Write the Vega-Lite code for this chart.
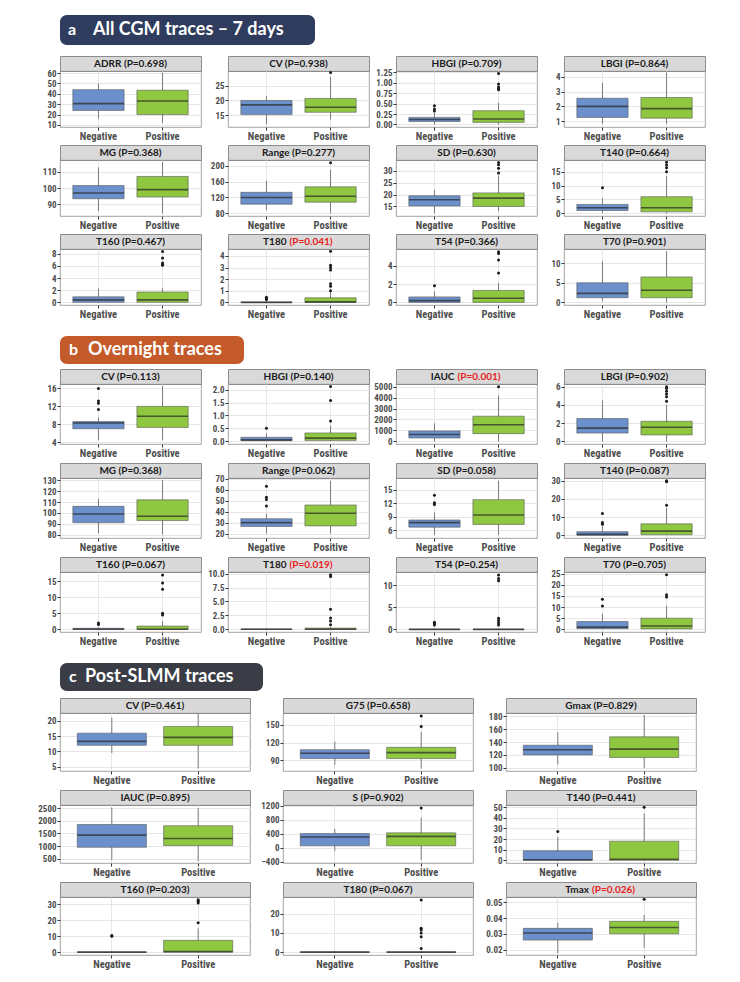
{
"$schema":"https://vega.github.io/schema/vega-lite/v6.json",
"background":"white",
"padding":{"left":28,"top":15,"right":4,"bottom":4},
"data":{"values":[{}]},
"datasets":{
"st":[
{"k":"a1","g":"Negative","lo":16,"q1":24,"md":30.5,"q3":44,"hi":50},{"k":"a1","g":"Positive","lo":12,"q1":20,"md":33,"q3":43.5,"hi":60},
{"k":"a2","g":"Negative","lo":12,"q1":15.2,"md":18.5,"q3":20,"hi":21.5},{"k":"a2","g":"Positive","lo":13.5,"q1":16,"md":17.7,"q3":20.7,"hi":28},
{"k":"a3","g":"Negative","lo":0,"q1":0.07,"md":0.12,"q3":0.17,"hi":0.28},{"k":"a3","g":"Positive","lo":0,"q1":0.05,"md":0.13,"q3":0.33,"hi":0.52},
{"k":"a4","g":"Negative","lo":0.8,"q1":1.25,"md":2,"q3":2.55,"hi":3.6},{"k":"a4","g":"Positive","lo":0.8,"q1":1.2,"md":1.85,"q3":2.6,"hi":4.3},
{"k":"a5","g":"Negative","lo":86,"q1":93.5,"md":97,"q3":101.5,"hi":112.5},{"k":"a5","g":"Positive","lo":84.5,"q1":94.5,"md":99,"q3":107,"hi":116},
{"k":"a6","g":"Negative","lo":88,"q1":103,"md":120,"q3":133,"hi":162},{"k":"a6","g":"Positive","lo":80,"q1":108,"md":123,"q3":147,"hi":190},
{"k":"a7","g":"Negative","lo":12,"q1":15.2,"md":17.8,"q3":19.5,"hi":22},{"k":"a7","g":"Positive","lo":13,"q1":15,"md":18.5,"q3":20.7,"hi":28},
{"k":"a8","g":"Negative","lo":0,"q1":1,"md":2,"q3":3.2,"hi":5.5},{"k":"a8","g":"Positive","lo":0,"q1":0.5,"md":2,"q3":6,"hi":13.5},
{"k":"a9","g":"Negative","lo":0,"q1":0,"md":0.4,"q3":0.9,"hi":2.3},{"k":"a9","g":"Positive","lo":0,"q1":0,"md":0.4,"q3":1.7,"hi":2.4},
{"k":"a10","g":"Negative","lo":0,"q1":0,"md":0,"q3":0.05,"hi":0.1},{"k":"a10","g":"Positive","lo":0,"q1":0,"md":0.05,"q3":0.4,"hi":0.9},
{"k":"a11","g":"Negative","lo":0,"q1":0,"md":0.2,"q3":0.6,"hi":1.2},{"k":"a11","g":"Positive","lo":0,"q1":0,"md":0.45,"q3":1.3,"hi":2.1},
{"k":"a12","g":"Negative","lo":0.3,"q1":1.2,"md":2.3,"q3":5,"hi":10.5},{"k":"a12","g":"Positive","lo":0,"q1":1.2,"md":3.1,"q3":6.5,"hi":13},
{"k":"b1","g":"Negative","lo":4.5,"q1":7,"md":8.3,"q3":8.6,"hi":9.5},{"k":"b1","g":"Positive","lo":4.5,"q1":7.3,"md":9.8,"q3":12,"hi":16.6},
{"k":"b2","g":"Negative","lo":0,"q1":0.02,"md":0.05,"q3":0.15,"hi":0.3},{"k":"b2","g":"Positive","lo":0,"q1":0.03,"md":0.12,"q3":0.32,"hi":0.6},
{"k":"b3","g":"Negative","lo":0,"q1":300,"md":620,"q3":950,"hi":1650},{"k":"b3","g":"Positive","lo":0,"q1":700,"md":1520,"q3":2300,"hi":4200},
{"k":"b4","g":"Negative","lo":0,"q1":0.9,"md":1.45,"q3":2.5,"hi":4.5},{"k":"b4","g":"Positive","lo":0,"q1":0.7,"md":1.55,"q3":2.2,"hi":4},
{"k":"b5","g":"Negative","lo":81,"q1":91,"md":99,"q3":106,"hi":113},{"k":"b5","g":"Positive","lo":80,"q1":93,"md":97,"q3":112,"hi":130},
{"k":"b6","g":"Negative","lo":20,"q1":26.5,"md":30,"q3":33.5,"hi":38},{"k":"b6","g":"Positive","lo":20,"q1":27,"md":38.5,"q3":46,"hi":68},
{"k":"b7","g":"Negative","lo":5,"q1":6.7,"md":7.7,"q3":8.3,"hi":10},{"k":"b7","g":"Positive","lo":5,"q1":7.3,"md":9.4,"q3":12.8,"hi":17},
{"k":"b8","g":"Negative","lo":0,"q1":0,"md":0.5,"q3":2,"hi":5},{"k":"b8","g":"Positive","lo":0,"q1":0.3,"md":2.3,"q3":6.3,"hi":15},
{"k":"b9","g":"Negative","lo":0,"q1":0,"md":0,"q3":0.3,"hi":0.6},{"k":"b9","g":"Positive","lo":0,"q1":0,"md":0,"q3":1,"hi":2.5},
{"k":"b10","g":"Negative","lo":0,"q1":0,"md":0,"q3":0,"hi":0},{"k":"b10","g":"Positive","lo":0,"q1":0,"md":0,"q3":0.2,"hi":0.4},
{"k":"b11","g":"Negative","lo":0,"q1":0,"md":0,"q3":0,"hi":0},{"k":"b11","g":"Positive","lo":0,"q1":0,"md":0,"q3":0,"hi":0},
{"k":"b12","g":"Negative","lo":0,"q1":0.3,"md":1,"q3":3.5,"hi":7},{"k":"b12","g":"Positive","lo":0,"q1":0.2,"md":1.5,"q3":5,"hi":10.5},
{"k":"c1","g":"Negative","lo":9.5,"q1":12,"md":13.3,"q3":16,"hi":21},{"k":"c1","g":"Positive","lo":4.5,"q1":12,"md":14.6,"q3":18.2,"hi":22.5},
{"k":"c2","g":"Negative","lo":82,"q1":93,"md":102,"q3":108,"hi":122},{"k":"c2","g":"Positive","lo":76,"q1":93,"md":103,"q3":112,"hi":138},
{"k":"c3","g":"Negative","lo":105,"q1":120,"md":128,"q3":135,"hi":155},{"k":"c3","g":"Positive","lo":100,"q1":116,"md":129,"q3":148,"hi":182},
{"k":"c4","g":"Negative","lo":450,"q1":950,"md":1430,"q3":1850,"hi":2520},{"k":"c4","g":"Positive","lo":400,"q1":1020,"md":1300,"q3":1800,"hi":2500},
{"k":"c5","g":"Negative","lo":-100,"q1":50,"md":300,"q3":400,"hi":530},{"k":"c5","g":"Positive","lo":-350,"q1":50,"md":320,"q3":420,"hi":850},
{"k":"c6","g":"Negative","lo":0,"q1":0,"md":0.5,"q3":9,"hi":22},{"k":"c6","g":"Positive","lo":0,"q1":0,"md":1,"q3":18,"hi":44},
{"k":"c7","g":"Negative","lo":0,"q1":0,"md":0,"q3":0.3,"hi":0.6},{"k":"c7","g":"Positive","lo":0,"q1":0,"md":0.5,"q3":7.5,"hi":15},
{"k":"c8","g":"Negative","lo":0,"q1":0,"md":0,"q3":0.3,"hi":0.5},{"k":"c8","g":"Positive","lo":0,"q1":0,"md":0,"q3":0.3,"hi":0.6},
{"k":"c9","g":"Negative","lo":0.0175,"q1":0.026,"md":0.0305,"q3":0.0335,"hi":0.037},{"k":"c9","g":"Positive","lo":0.021,"q1":0.03,"md":0.034,"q3":0.038,"hi":0.042}
],
"ot":[
{"k":"a2","g":"Positive","v":29.5},
{"k":"a3","g":"Negative","v":0.32},{"k":"a3","g":"Negative","v":0.37},{"k":"a3","g":"Negative","v":0.45},
{"k":"a3","g":"Positive","v":0.83},{"k":"a3","g":"Positive","v":0.86},{"k":"a3","g":"Positive","v":0.9},{"k":"a3","g":"Positive","v":0.97},{"k":"a3","g":"Positive","v":1.22},
{"k":"a6","g":"Positive","v":208},
{"k":"a7","g":"Positive","v":29},{"k":"a7","g":"Positive","v":31},{"k":"a7","g":"Positive","v":32.5},{"k":"a7","g":"Positive","v":33.5},
{"k":"a8","g":"Negative","v":9.2},{"k":"a8","g":"Positive","v":15},{"k":"a8","g":"Positive","v":16.5},{"k":"a8","g":"Positive","v":17.5},{"k":"a8","g":"Positive","v":18.5},
{"k":"a9","g":"Positive","v":6.1},{"k":"a9","g":"Positive","v":6.3},{"k":"a9","g":"Positive","v":6.5},{"k":"a9","g":"Positive","v":7.3},{"k":"a9","g":"Positive","v":8.4},
{"k":"a10","g":"Negative","v":0.25},{"k":"a10","g":"Negative","v":0.35},{"k":"a10","g":"Negative","v":0.45},
{"k":"a10","g":"Positive","v":1.0},{"k":"a10","g":"Positive","v":1.4},{"k":"a10","g":"Positive","v":1.6},{"k":"a10","g":"Positive","v":2.8},{"k":"a10","g":"Positive","v":3.0},{"k":"a10","g":"Positive","v":3.2},{"k":"a10","g":"Positive","v":4.4},
{"k":"a11","g":"Negative","v":1.8},{"k":"a11","g":"Positive","v":3.2},{"k":"a11","g":"Positive","v":4.6},{"k":"a11","g":"Positive","v":5.3},{"k":"a11","g":"Positive","v":5.5},
{"k":"b1","g":"Negative","v":11.3},{"k":"b1","g":"Negative","v":12.7},{"k":"b1","g":"Negative","v":13.2},{"k":"b1","g":"Negative","v":16},
{"k":"b2","g":"Negative","v":0.5},{"k":"b2","g":"Positive","v":0.78},{"k":"b2","g":"Positive","v":1.58},{"k":"b2","g":"Positive","v":2.12},
{"k":"b3","g":"Positive","v":5000},
{"k":"b4","g":"Positive","v":4.4},{"k":"b4","g":"Positive","v":4.9},{"k":"b4","g":"Positive","v":5.2},{"k":"b4","g":"Positive","v":5.5},{"k":"b4","g":"Positive","v":5.8},{"k":"b4","g":"Positive","v":6.0},
{"k":"b6","g":"Negative","v":45},{"k":"b6","g":"Negative","v":51},{"k":"b6","g":"Negative","v":53},{"k":"b6","g":"Negative","v":63},
{"k":"b7","g":"Negative","v":11.7},{"k":"b7","g":"Negative","v":12.1},{"k":"b7","g":"Negative","v":13.8},
{"k":"b8","g":"Negative","v":6},{"k":"b8","g":"Negative","v":7},{"k":"b8","g":"Negative","v":12},{"k":"b8","g":"Positive","v":16.5},{"k":"b8","g":"Positive","v":29.5},{"k":"b8","g":"Positive","v":30},
{"k":"b9","g":"Negative","v":1.5},{"k":"b9","g":"Negative","v":2},{"k":"b9","g":"Positive","v":4.5},{"k":"b9","g":"Positive","v":5},{"k":"b9","g":"Positive","v":12.5},{"k":"b9","g":"Positive","v":14.5},{"k":"b9","g":"Positive","v":17},
{"k":"b10","g":"Positive","v":0.8},{"k":"b10","g":"Positive","v":1.5},{"k":"b10","g":"Positive","v":2.0},{"k":"b10","g":"Positive","v":3.6},{"k":"b10","g":"Positive","v":9.5},{"k":"b10","g":"Positive","v":9.8},
{"k":"b11","g":"Negative","v":1.0},{"k":"b11","g":"Negative","v":1.3},{"k":"b11","g":"Negative","v":1.6},
{"k":"b11","g":"Positive","v":1.0},{"k":"b11","g":"Positive","v":1.5},{"k":"b11","g":"Positive","v":2.0},{"k":"b11","g":"Positive","v":2.5},{"k":"b11","g":"Positive","v":11.0},{"k":"b11","g":"Positive","v":11.5},{"k":"b11","g":"Positive","v":12.3},
{"k":"b12","g":"Negative","v":10.5},{"k":"b12","g":"Negative","v":13.5},{"k":"b12","g":"Positive","v":14.5},{"k":"b12","g":"Positive","v":15.5},{"k":"b12","g":"Positive","v":24.5},
{"k":"c2","g":"Positive","v":147},{"k":"c2","g":"Positive","v":165},
{"k":"c5","g":"Positive","v":1130},
{"k":"c6","g":"Negative","v":27},{"k":"c6","g":"Positive","v":50},
{"k":"c7","g":"Negative","v":10},{"k":"c7","g":"Negative","v":10.5},{"k":"c7","g":"Positive","v":18.5},{"k":"c7","g":"Positive","v":31},{"k":"c7","g":"Positive","v":32},{"k":"c7","g":"Positive","v":33},
{"k":"c8","g":"Positive","v":2},{"k":"c8","g":"Positive","v":8},{"k":"c8","g":"Positive","v":10},{"k":"c8","g":"Positive","v":11.5},{"k":"c8","g":"Positive","v":12.5},{"k":"c8","g":"Positive","v":27},
{"k":"c9","g":"Positive","v":0.052}
]
},
"config":{
"font":"Lato",
"view":{"stroke":"#8c8c8c","strokeWidth":0.8},
"range":{"category":["#6c90cb","#8fc740"]},
"scale":{"bandPaddingInner":0.2,"bandPaddingOuter":0.2},
"numberFormat":"d",
"axis":{"labelFont":"Liberation Sans Narrow, Arial Narrow, Roboto Condensed, DejaVu Sans Condensed, sans-serif","labelFontWeight":"bold","labelColor":"#4d4d4d","tickColor":"#333333","tickSize":3,"domain":false,"gridColor":"#e3e3e3","gridWidth":0.9,"labelPadding":1,"labelOverlap":false},
"axisX":{"labelAngle":0,"labelFontSize":10.5,"grid":true,"bandPosition":0.5},
"axisY":{"labelFontSize":9,"minExtent":25,"maxExtent":25},
"rule":{"color":"#4d4d4d","strokeWidth":0.7},
"bar":{"stroke":"#595959","strokeWidth":0.6},
"tick":{"color":"#262626","thickness":1.6},
"point":{"filled":true,"color":"#1a1a1a","size":9,"opacity":1},
"text":{"font":"Lato","fontWeight":"bold","fontSize":10,"color":"#1a1a1a"}
},
"spacing":16,
"vconcat":[
{"spacing":10,"vconcat":[
{"width":255,"height":30,"view":{"fill":"#2f3c5d","stroke":null,"cornerRadius":7},"layer":[
{"mark":{"type":"text","align":"left","dx":-119.5,"fontSize":16,"color":"white"},"encoding":{"text":{"value":"a"}}},
{"mark":{"type":"text","align":"left","dx":-94.5,"fontSize":18,"color":"white"},"encoding":{"text":{"value":"All CGM traces – 7 days"}}}]},
{"columns":4,"spacing":{"row":2,"column":0},"concat":[
{"spacing":0,"bounds":"flush","vconcat":[{"width":141,"height":15,"view":{"fill":"#d9d9d9","stroke":"#8c8c8c"},"mark":"text","encoding":{"text":{"value":"ADRR (P=0.698)"}}},{"width":141,"height":56,"data":{"name":"st"},"transform":[{"filter":"datum.k=='a1'"}],"encoding":{"x":{"field":"g","type":"nominal","title":null}},"resolve":{"axis":{"y":"independent"}},"layer":[{"mark":"rule","encoding":{"y":{"field":"lo","type":"quantitative","title":null,"scale":{"domain":[8,62],"nice":false},"axis":{"labelOverlap":false,"values":[10,20,30,40,50,60]}},"y2":{"field":"hi"}}},{"mark":"bar","encoding":{"y":{"field":"q1","type":"quantitative","axis":null},"y2":{"field":"q3"},"color":{"field":"g","type":"nominal","legend":null}}},{"mark":{"type":"tick","size":51},"encoding":{"y":{"field":"md","type":"quantitative","axis":null}}},{"data":{"name":"ot"},"transform":[{"filter":"datum.k=='a1'"}],"mark":"point","encoding":{"y":{"field":"v","type":"quantitative","axis":null}}},{"mark":{"type":"rule","opacity":0},"encoding":{"y":{"field":"lo","type":"quantitative","title":null,"axis":{"orient":"right","values":[15,25,35,45,55],"labels":false,"ticks":false,"minExtent":0,"maxExtent":0,"gridColor":"#efefef","gridWidth":0.6}}}}]}]},
{"spacing":0,"bounds":"flush","vconcat":[{"width":141,"height":15,"view":{"fill":"#d9d9d9","stroke":"#8c8c8c"},"mark":"text","encoding":{"text":{"value":"CV (P=0.938)"}}},{"width":141,"height":56,"data":{"name":"st"},"transform":[{"filter":"datum.k=='a2'"}],"encoding":{"x":{"field":"g","type":"nominal","title":null}},"resolve":{"axis":{"y":"independent"}},"layer":[{"mark":"rule","encoding":{"y":{"field":"lo","type":"quantitative","title":null,"scale":{"domain":[11,30],"nice":false},"axis":{"labelOverlap":false,"values":[15,20,25]}},"y2":{"field":"hi"}}},{"mark":"bar","encoding":{"y":{"field":"q1","type":"quantitative","axis":null},"y2":{"field":"q3"},"color":{"field":"g","type":"nominal","legend":null}}},{"mark":{"type":"tick","size":51},"encoding":{"y":{"field":"md","type":"quantitative","axis":null}}},{"data":{"name":"ot"},"transform":[{"filter":"datum.k=='a2'"}],"mark":"point","encoding":{"y":{"field":"v","type":"quantitative","axis":null}}},{"mark":{"type":"rule","opacity":0},"encoding":{"y":{"field":"lo","type":"quantitative","title":null,"axis":{"orient":"right","values":[12.5,17.5,22.5,27.5],"labels":false,"ticks":false,"minExtent":0,"maxExtent":0,"gridColor":"#efefef","gridWidth":0.6}}}}]}]},
{"spacing":0,"bounds":"flush","vconcat":[{"width":141,"height":15,"view":{"fill":"#d9d9d9","stroke":"#8c8c8c"},"mark":"text","encoding":{"text":{"value":"HBGI (P=0.709)"}}},{"width":141,"height":56,"data":{"name":"st"},"transform":[{"filter":"datum.k=='a3'"}],"encoding":{"x":{"field":"g","type":"nominal","title":null}},"resolve":{"axis":{"y":"independent"}},"layer":[{"mark":"rule","encoding":{"y":{"field":"lo","type":"quantitative","title":null,"scale":{"domain":[-0.06,1.28],"nice":false},"axis":{"labelOverlap":false,"format":".2f","values":[0,0.25,0.5,0.75,1,1.25]}},"y2":{"field":"hi"}}},{"mark":"bar","encoding":{"y":{"field":"q1","type":"quantitative","axis":null},"y2":{"field":"q3"},"color":{"field":"g","type":"nominal","legend":null}}},{"mark":{"type":"tick","size":51},"encoding":{"y":{"field":"md","type":"quantitative","axis":null}}},{"data":{"name":"ot"},"transform":[{"filter":"datum.k=='a3'"}],"mark":"point","encoding":{"y":{"field":"v","type":"quantitative","axis":null}}},{"mark":{"type":"rule","opacity":0},"encoding":{"y":{"field":"lo","type":"quantitative","title":null,"axis":{"orient":"right","values":[0.125,0.375,0.625,0.875,1.125],"labels":false,"ticks":false,"minExtent":0,"maxExtent":0,"gridColor":"#efefef","gridWidth":0.6}}}}]}]},
{"spacing":0,"bounds":"flush","vconcat":[{"width":141,"height":15,"view":{"fill":"#d9d9d9","stroke":"#8c8c8c"},"mark":"text","encoding":{"text":{"value":"LBGI (P=0.864)"}}},{"width":141,"height":56,"data":{"name":"st"},"transform":[{"filter":"datum.k=='a4'"}],"encoding":{"x":{"field":"g","type":"nominal","title":null}},"resolve":{"axis":{"y":"independent"}},"layer":[{"mark":"rule","encoding":{"y":{"field":"lo","type":"quantitative","title":null,"scale":{"domain":[0.6,4.4],"nice":false},"axis":{"labelOverlap":false,"values":[1,2,3,4]}},"y2":{"field":"hi"}}},{"mark":"bar","encoding":{"y":{"field":"q1","type":"quantitative","axis":null},"y2":{"field":"q3"},"color":{"field":"g","type":"nominal","legend":null}}},{"mark":{"type":"tick","size":51},"encoding":{"y":{"field":"md","type":"quantitative","axis":null}}},{"data":{"name":"ot"},"transform":[{"filter":"datum.k=='a4'"}],"mark":"point","encoding":{"y":{"field":"v","type":"quantitative","axis":null}}},{"mark":{"type":"rule","opacity":0},"encoding":{"y":{"field":"lo","type":"quantitative","title":null,"axis":{"orient":"right","values":[1.5,2.5,3.5],"labels":false,"ticks":false,"minExtent":0,"maxExtent":0,"gridColor":"#efefef","gridWidth":0.6}}}}]}]},
{"spacing":0,"bounds":"flush","vconcat":[{"width":141,"height":15,"view":{"fill":"#d9d9d9","stroke":"#8c8c8c"},"mark":"text","encoding":{"text":{"value":"MG (P=0.368)"}}},{"width":141,"height":56,"data":{"name":"st"},"transform":[{"filter":"datum.k=='a5'"}],"encoding":{"x":{"field":"g","type":"nominal","title":null}},"resolve":{"axis":{"y":"independent"}},"layer":[{"mark":"rule","encoding":{"y":{"field":"lo","type":"quantitative","title":null,"scale":{"domain":[83,117],"nice":false},"axis":{"labelOverlap":false,"values":[90,100,110]}},"y2":{"field":"hi"}}},{"mark":"bar","encoding":{"y":{"field":"q1","type":"quantitative","axis":null},"y2":{"field":"q3"},"color":{"field":"g","type":"nominal","legend":null}}},{"mark":{"type":"tick","size":51},"encoding":{"y":{"field":"md","type":"quantitative","axis":null}}},{"data":{"name":"ot"},"transform":[{"filter":"datum.k=='a5'"}],"mark":"point","encoding":{"y":{"field":"v","type":"quantitative","axis":null}}},{"mark":{"type":"rule","opacity":0},"encoding":{"y":{"field":"lo","type":"quantitative","title":null,"axis":{"orient":"right","values":[85,95,105,115],"labels":false,"ticks":false,"minExtent":0,"maxExtent":0,"gridColor":"#efefef","gridWidth":0.6}}}}]}]},
{"spacing":0,"bounds":"flush","vconcat":[{"width":141,"height":15,"view":{"fill":"#d9d9d9","stroke":"#8c8c8c"},"mark":"text","encoding":{"text":{"value":"Range (P=0.277)"}}},{"width":141,"height":56,"data":{"name":"st"},"transform":[{"filter":"datum.k=='a6'"}],"encoding":{"x":{"field":"g","type":"nominal","title":null}},"resolve":{"axis":{"y":"independent"}},"layer":[{"mark":"rule","encoding":{"y":{"field":"lo","type":"quantitative","title":null,"scale":{"domain":[73,215],"nice":false},"axis":{"labelOverlap":false,"values":[80,120,160,200]}},"y2":{"field":"hi"}}},{"mark":"bar","encoding":{"y":{"field":"q1","type":"quantitative","axis":null},"y2":{"field":"q3"},"color":{"field":"g","type":"nominal","legend":null}}},{"mark":{"type":"tick","size":51},"encoding":{"y":{"field":"md","type":"quantitative","axis":null}}},{"data":{"name":"ot"},"transform":[{"filter":"datum.k=='a6'"}],"mark":"point","encoding":{"y":{"field":"v","type":"quantitative","axis":null}}},{"mark":{"type":"rule","opacity":0},"encoding":{"y":{"field":"lo","type":"quantitative","title":null,"axis":{"orient":"right","values":[100,140,180],"labels":false,"ticks":false,"minExtent":0,"maxExtent":0,"gridColor":"#efefef","gridWidth":0.6}}}}]}]},
{"spacing":0,"bounds":"flush","vconcat":[{"width":141,"height":15,"view":{"fill":"#d9d9d9","stroke":"#8c8c8c"},"mark":"text","encoding":{"text":{"value":"SD (P=0.630)"}}},{"width":141,"height":56,"data":{"name":"st"},"transform":[{"filter":"datum.k=='a7'"}],"encoding":{"x":{"field":"g","type":"nominal","title":null}},"resolve":{"axis":{"y":"independent"}},"layer":[{"mark":"rule","encoding":{"y":{"field":"lo","type":"quantitative","title":null,"scale":{"domain":[11,34.5],"nice":false},"axis":{"labelOverlap":false,"values":[15,20,25,30]}},"y2":{"field":"hi"}}},{"mark":"bar","encoding":{"y":{"field":"q1","type":"quantitative","axis":null},"y2":{"field":"q3"},"color":{"field":"g","type":"nominal","legend":null}}},{"mark":{"type":"tick","size":51},"encoding":{"y":{"field":"md","type":"quantitative","axis":null}}},{"data":{"name":"ot"},"transform":[{"filter":"datum.k=='a7'"}],"mark":"point","encoding":{"y":{"field":"v","type":"quantitative","axis":null}}},{"mark":{"type":"rule","opacity":0},"encoding":{"y":{"field":"lo","type":"quantitative","title":null,"axis":{"orient":"right","values":[12.5,17.5,22.5,27.5,32.5],"labels":false,"ticks":false,"minExtent":0,"maxExtent":0,"gridColor":"#efefef","gridWidth":0.6}}}}]}]},
{"spacing":0,"bounds":"flush","vconcat":[{"width":141,"height":15,"view":{"fill":"#d9d9d9","stroke":"#8c8c8c"},"mark":"text","encoding":{"text":{"value":"T140 (P=0.664)"}}},{"width":141,"height":56,"data":{"name":"st"},"transform":[{"filter":"datum.k=='a8'"}],"encoding":{"x":{"field":"g","type":"nominal","title":null}},"resolve":{"axis":{"y":"independent"}},"layer":[{"mark":"rule","encoding":{"y":{"field":"lo","type":"quantitative","title":null,"scale":{"domain":[-1,19.3],"nice":false},"axis":{"labelOverlap":false,"values":[0,5,10,15]}},"y2":{"field":"hi"}}},{"mark":"bar","encoding":{"y":{"field":"q1","type":"quantitative","axis":null},"y2":{"field":"q3"},"color":{"field":"g","type":"nominal","legend":null}}},{"mark":{"type":"tick","size":51},"encoding":{"y":{"field":"md","type":"quantitative","axis":null}}},{"data":{"name":"ot"},"transform":[{"filter":"datum.k=='a8'"}],"mark":"point","encoding":{"y":{"field":"v","type":"quantitative","axis":null}}},{"mark":{"type":"rule","opacity":0},"encoding":{"y":{"field":"lo","type":"quantitative","title":null,"axis":{"orient":"right","values":[2.5,7.5,12.5,17.5],"labels":false,"ticks":false,"minExtent":0,"maxExtent":0,"gridColor":"#efefef","gridWidth":0.6}}}}]}]},
{"spacing":0,"bounds":"flush","vconcat":[{"width":141,"height":15,"view":{"fill":"#d9d9d9","stroke":"#8c8c8c"},"mark":"text","encoding":{"text":{"value":"T160 (P=0.467)"}}},{"width":141,"height":56,"data":{"name":"st"},"transform":[{"filter":"datum.k=='a9'"}],"encoding":{"x":{"field":"g","type":"nominal","title":null}},"resolve":{"axis":{"y":"independent"}},"layer":[{"mark":"rule","encoding":{"y":{"field":"lo","type":"quantitative","title":null,"scale":{"domain":[-0.45,8.8],"nice":false},"axis":{"labelOverlap":false,"values":[0,2,4,6,8]}},"y2":{"field":"hi"}}},{"mark":"bar","encoding":{"y":{"field":"q1","type":"quantitative","axis":null},"y2":{"field":"q3"},"color":{"field":"g","type":"nominal","legend":null}}},{"mark":{"type":"tick","size":51},"encoding":{"y":{"field":"md","type":"quantitative","axis":null}}},{"data":{"name":"ot"},"transform":[{"filter":"datum.k=='a9'"}],"mark":"point","encoding":{"y":{"field":"v","type":"quantitative","axis":null}}},{"mark":{"type":"rule","opacity":0},"encoding":{"y":{"field":"lo","type":"quantitative","title":null,"axis":{"orient":"right","values":[1,3,5,7],"labels":false,"ticks":false,"minExtent":0,"maxExtent":0,"gridColor":"#efefef","gridWidth":0.6}}}}]}]},
{"spacing":0,"bounds":"flush","vconcat":[{"width":141,"height":15,"view":{"fill":"#d9d9d9","stroke":"#8c8c8c"},"layer":[{"mark":{"type":"text","align":"right","dx":-12},"encoding":{"text":{"value":"T180"}}},{"mark":{"type":"text","align":"left","dx":-9,"color":"#e8201c"},"encoding":{"text":{"value":"(P=0.041)"}}}]},{"width":141,"height":56,"data":{"name":"st"},"transform":[{"filter":"datum.k=='a10'"}],"encoding":{"x":{"field":"g","type":"nominal","title":null}},"resolve":{"axis":{"y":"independent"}},"layer":[{"mark":"rule","encoding":{"y":{"field":"lo","type":"quantitative","title":null,"scale":{"domain":[-0.22,4.6],"nice":false},"axis":{"labelOverlap":false,"values":[0,1,2,3,4]}},"y2":{"field":"hi"}}},{"mark":"bar","encoding":{"y":{"field":"q1","type":"quantitative","axis":null},"y2":{"field":"q3"},"color":{"field":"g","type":"nominal","legend":null}}},{"mark":{"type":"tick","size":51},"encoding":{"y":{"field":"md","type":"quantitative","axis":null}}},{"data":{"name":"ot"},"transform":[{"filter":"datum.k=='a10'"}],"mark":"point","encoding":{"y":{"field":"v","type":"quantitative","axis":null}}},{"mark":{"type":"rule","opacity":0},"encoding":{"y":{"field":"lo","type":"quantitative","title":null,"axis":{"orient":"right","values":[0.5,1.5,2.5,3.5,4.5],"labels":false,"ticks":false,"minExtent":0,"maxExtent":0,"gridColor":"#efefef","gridWidth":0.6}}}}]}]},
{"spacing":0,"bounds":"flush","vconcat":[{"width":141,"height":15,"view":{"fill":"#d9d9d9","stroke":"#8c8c8c"},"mark":"text","encoding":{"text":{"value":"T54 (P=0.366)"}}},{"width":141,"height":56,"data":{"name":"st"},"transform":[{"filter":"datum.k=='a11'"}],"encoding":{"x":{"field":"g","type":"nominal","title":null}},"resolve":{"axis":{"y":"independent"}},"layer":[{"mark":"rule","encoding":{"y":{"field":"lo","type":"quantitative","title":null,"scale":{"domain":[-0.28,5.8],"nice":false},"axis":{"labelOverlap":false,"values":[0,2,4]}},"y2":{"field":"hi"}}},{"mark":"bar","encoding":{"y":{"field":"q1","type":"quantitative","axis":null},"y2":{"field":"q3"},"color":{"field":"g","type":"nominal","legend":null}}},{"mark":{"type":"tick","size":51},"encoding":{"y":{"field":"md","type":"quantitative","axis":null}}},{"data":{"name":"ot"},"transform":[{"filter":"datum.k=='a11'"}],"mark":"point","encoding":{"y":{"field":"v","type":"quantitative","axis":null}}},{"mark":{"type":"rule","opacity":0},"encoding":{"y":{"field":"lo","type":"quantitative","title":null,"axis":{"orient":"right","values":[1,3,5],"labels":false,"ticks":false,"minExtent":0,"maxExtent":0,"gridColor":"#efefef","gridWidth":0.6}}}}]}]},
{"spacing":0,"bounds":"flush","vconcat":[{"width":141,"height":15,"view":{"fill":"#d9d9d9","stroke":"#8c8c8c"},"mark":"text","encoding":{"text":{"value":"T70 (P=0.901)"}}},{"width":141,"height":56,"data":{"name":"st"},"transform":[{"filter":"datum.k=='a12'"}],"encoding":{"x":{"field":"g","type":"nominal","title":null}},"resolve":{"axis":{"y":"independent"}},"layer":[{"mark":"rule","encoding":{"y":{"field":"lo","type":"quantitative","title":null,"scale":{"domain":[-0.65,13.6],"nice":false},"axis":{"labelOverlap":false,"values":[0,5,10]}},"y2":{"field":"hi"}}},{"mark":"bar","encoding":{"y":{"field":"q1","type":"quantitative","axis":null},"y2":{"field":"q3"},"color":{"field":"g","type":"nominal","legend":null}}},{"mark":{"type":"tick","size":51},"encoding":{"y":{"field":"md","type":"quantitative","axis":null}}},{"data":{"name":"ot"},"transform":[{"filter":"datum.k=='a12'"}],"mark":"point","encoding":{"y":{"field":"v","type":"quantitative","axis":null}}},{"mark":{"type":"rule","opacity":0},"encoding":{"y":{"field":"lo","type":"quantitative","title":null,"axis":{"orient":"right","values":[2.5,7.5,12.5],"labels":false,"ticks":false,"minExtent":0,"maxExtent":0,"gridColor":"#efefef","gridWidth":0.6}}}}]}]}
]}]},
{"spacing":4,"vconcat":[
{"width":184,"height":28,"view":{"fill":"#c45a29","stroke":null,"cornerRadius":7},"layer":[
{"mark":{"type":"text","align":"left","dx":-83,"fontSize":16,"color":"white"},"encoding":{"text":{"value":"b"}}},
{"mark":{"type":"text","align":"left","dx":-64,"fontSize":18,"color":"white"},"encoding":{"text":{"value":"Overnight traces"}}}]},
{"columns":4,"spacing":{"row":3,"column":0},"concat":[
{"spacing":0,"bounds":"flush","vconcat":[{"width":141,"height":15,"view":{"fill":"#d9d9d9","stroke":"#8c8c8c"},"mark":"text","encoding":{"text":{"value":"CV (P=0.113)"}}},{"width":141,"height":60,"data":{"name":"st"},"transform":[{"filter":"datum.k=='b1'"}],"encoding":{"x":{"field":"g","type":"nominal","title":null}},"resolve":{"axis":{"y":"independent"}},"layer":[{"mark":"rule","encoding":{"y":{"field":"lo","type":"quantitative","title":null,"scale":{"domain":[3.6,17],"nice":false},"axis":{"labelOverlap":false,"values":[4,8,12,16]}},"y2":{"field":"hi"}}},{"mark":"bar","encoding":{"y":{"field":"q1","type":"quantitative","axis":null},"y2":{"field":"q3"},"color":{"field":"g","type":"nominal","legend":null}}},{"mark":{"type":"tick","size":51},"encoding":{"y":{"field":"md","type":"quantitative","axis":null}}},{"data":{"name":"ot"},"transform":[{"filter":"datum.k=='b1'"}],"mark":"point","encoding":{"y":{"field":"v","type":"quantitative","axis":null}}},{"mark":{"type":"rule","opacity":0},"encoding":{"y":{"field":"lo","type":"quantitative","title":null,"axis":{"orient":"right","values":[6,10,14],"labels":false,"ticks":false,"minExtent":0,"maxExtent":0,"gridColor":"#efefef","gridWidth":0.6}}}}]}]},
{"spacing":0,"bounds":"flush","vconcat":[{"width":141,"height":15,"view":{"fill":"#d9d9d9","stroke":"#8c8c8c"},"mark":"text","encoding":{"text":{"value":"HBGI (P=0.140)"}}},{"width":141,"height":60,"data":{"name":"st"},"transform":[{"filter":"datum.k=='b2'"}],"encoding":{"x":{"field":"g","type":"nominal","title":null}},"resolve":{"axis":{"y":"independent"}},"layer":[{"mark":"rule","encoding":{"y":{"field":"lo","type":"quantitative","title":null,"scale":{"domain":[-0.11,2.22],"nice":false},"axis":{"labelOverlap":false,"format":".1f","values":[0,0.5,1,1.5,2]}},"y2":{"field":"hi"}}},{"mark":"bar","encoding":{"y":{"field":"q1","type":"quantitative","axis":null},"y2":{"field":"q3"},"color":{"field":"g","type":"nominal","legend":null}}},{"mark":{"type":"tick","size":51},"encoding":{"y":{"field":"md","type":"quantitative","axis":null}}},{"data":{"name":"ot"},"transform":[{"filter":"datum.k=='b2'"}],"mark":"point","encoding":{"y":{"field":"v","type":"quantitative","axis":null}}},{"mark":{"type":"rule","opacity":0},"encoding":{"y":{"field":"lo","type":"quantitative","title":null,"axis":{"orient":"right","values":[0.25,0.75,1.25,1.75],"labels":false,"ticks":false,"minExtent":0,"maxExtent":0,"gridColor":"#efefef","gridWidth":0.6}}}}]}]},
{"spacing":0,"bounds":"flush","vconcat":[{"width":141,"height":15,"view":{"fill":"#d9d9d9","stroke":"#8c8c8c"},"layer":[{"mark":{"type":"text","align":"right","dx":-12},"encoding":{"text":{"value":"IAUC"}}},{"mark":{"type":"text","align":"left","dx":-9,"color":"#e8201c"},"encoding":{"text":{"value":"(P=0.001)"}}}]},{"width":141,"height":60,"data":{"name":"st"},"transform":[{"filter":"datum.k=='b3'"}],"encoding":{"x":{"field":"g","type":"nominal","title":null}},"resolve":{"axis":{"y":"independent"}},"layer":[{"mark":"rule","encoding":{"y":{"field":"lo","type":"quantitative","title":null,"scale":{"domain":[-250,5250],"nice":false},"axis":{"labelOverlap":false,"values":[0,1000,2000,3000,4000,5000]}},"y2":{"field":"hi"}}},{"mark":"bar","encoding":{"y":{"field":"q1","type":"quantitative","axis":null},"y2":{"field":"q3"},"color":{"field":"g","type":"nominal","legend":null}}},{"mark":{"type":"tick","size":51},"encoding":{"y":{"field":"md","type":"quantitative","axis":null}}},{"data":{"name":"ot"},"transform":[{"filter":"datum.k=='b3'"}],"mark":"point","encoding":{"y":{"field":"v","type":"quantitative","axis":null}}},{"mark":{"type":"rule","opacity":0},"encoding":{"y":{"field":"lo","type":"quantitative","title":null,"axis":{"orient":"right","values":[500,1500,2500,3500,4500],"labels":false,"ticks":false,"minExtent":0,"maxExtent":0,"gridColor":"#efefef","gridWidth":0.6}}}}]}]},
{"spacing":0,"bounds":"flush","vconcat":[{"width":141,"height":15,"view":{"fill":"#d9d9d9","stroke":"#8c8c8c"},"mark":"text","encoding":{"text":{"value":"LBGI (P=0.902)"}}},{"width":141,"height":60,"data":{"name":"st"},"transform":[{"filter":"datum.k=='b4'"}],"encoding":{"x":{"field":"g","type":"nominal","title":null}},"resolve":{"axis":{"y":"independent"}},"layer":[{"mark":"rule","encoding":{"y":{"field":"lo","type":"quantitative","title":null,"scale":{"domain":[-0.3,6.3],"nice":false},"axis":{"labelOverlap":false,"values":[0,2,4,6]}},"y2":{"field":"hi"}}},{"mark":"bar","encoding":{"y":{"field":"q1","type":"quantitative","axis":null},"y2":{"field":"q3"},"color":{"field":"g","type":"nominal","legend":null}}},{"mark":{"type":"tick","size":51},"encoding":{"y":{"field":"md","type":"quantitative","axis":null}}},{"data":{"name":"ot"},"transform":[{"filter":"datum.k=='b4'"}],"mark":"point","encoding":{"y":{"field":"v","type":"quantitative","axis":null}}},{"mark":{"type":"rule","opacity":0},"encoding":{"y":{"field":"lo","type":"quantitative","title":null,"axis":{"orient":"right","values":[1,3,5],"labels":false,"ticks":false,"minExtent":0,"maxExtent":0,"gridColor":"#efefef","gridWidth":0.6}}}}]}]},
{"spacing":0,"bounds":"flush","vconcat":[{"width":141,"height":15,"view":{"fill":"#d9d9d9","stroke":"#8c8c8c"},"mark":"text","encoding":{"text":{"value":"MG (P=0.368)"}}},{"width":141,"height":60,"data":{"name":"st"},"transform":[{"filter":"datum.k=='b5'"}],"encoding":{"x":{"field":"g","type":"nominal","title":null}},"resolve":{"axis":{"y":"independent"}},"layer":[{"mark":"rule","encoding":{"y":{"field":"lo","type":"quantitative","title":null,"scale":{"domain":[77,132],"nice":false},"axis":{"labelOverlap":false,"values":[80,90,100,110,120,130]}},"y2":{"field":"hi"}}},{"mark":"bar","encoding":{"y":{"field":"q1","type":"quantitative","axis":null},"y2":{"field":"q3"},"color":{"field":"g","type":"nominal","legend":null}}},{"mark":{"type":"tick","size":51},"encoding":{"y":{"field":"md","type":"quantitative","axis":null}}},{"data":{"name":"ot"},"transform":[{"filter":"datum.k=='b5'"}],"mark":"point","encoding":{"y":{"field":"v","type":"quantitative","axis":null}}},{"mark":{"type":"rule","opacity":0},"encoding":{"y":{"field":"lo","type":"quantitative","title":null,"axis":{"orient":"right","values":[85,95,105,115,125],"labels":false,"ticks":false,"minExtent":0,"maxExtent":0,"gridColor":"#efefef","gridWidth":0.6}}}}]}]},
{"spacing":0,"bounds":"flush","vconcat":[{"width":141,"height":15,"view":{"fill":"#d9d9d9","stroke":"#8c8c8c"},"mark":"text","encoding":{"text":{"value":"Range (P=0.062)"}}},{"width":141,"height":60,"data":{"name":"st"},"transform":[{"filter":"datum.k=='b6'"}],"encoding":{"x":{"field":"g","type":"nominal","title":null}},"resolve":{"axis":{"y":"independent"}},"layer":[{"mark":"rule","encoding":{"y":{"field":"lo","type":"quantitative","title":null,"scale":{"domain":[16,70.5],"nice":false},"axis":{"labelOverlap":false,"values":[20,30,40,50,60,70]}},"y2":{"field":"hi"}}},{"mark":"bar","encoding":{"y":{"field":"q1","type":"quantitative","axis":null},"y2":{"field":"q3"},"color":{"field":"g","type":"nominal","legend":null}}},{"mark":{"type":"tick","size":51},"encoding":{"y":{"field":"md","type":"quantitative","axis":null}}},{"data":{"name":"ot"},"transform":[{"filter":"datum.k=='b6'"}],"mark":"point","encoding":{"y":{"field":"v","type":"quantitative","axis":null}}},{"mark":{"type":"rule","opacity":0},"encoding":{"y":{"field":"lo","type":"quantitative","title":null,"axis":{"orient":"right","values":[25,35,45,55,65],"labels":false,"ticks":false,"minExtent":0,"maxExtent":0,"gridColor":"#efefef","gridWidth":0.6}}}}]}]},
{"spacing":0,"bounds":"flush","vconcat":[{"width":141,"height":15,"view":{"fill":"#d9d9d9","stroke":"#8c8c8c"},"mark":"text","encoding":{"text":{"value":"SD (P=0.058)"}}},{"width":141,"height":60,"data":{"name":"st"},"transform":[{"filter":"datum.k=='b7'"}],"encoding":{"x":{"field":"g","type":"nominal","title":null}},"resolve":{"axis":{"y":"independent"}},"layer":[{"mark":"rule","encoding":{"y":{"field":"lo","type":"quantitative","title":null,"scale":{"domain":[4.3,17.6],"nice":false},"axis":{"labelOverlap":false,"values":[6,9,12,15]}},"y2":{"field":"hi"}}},{"mark":"bar","encoding":{"y":{"field":"q1","type":"quantitative","axis":null},"y2":{"field":"q3"},"color":{"field":"g","type":"nominal","legend":null}}},{"mark":{"type":"tick","size":51},"encoding":{"y":{"field":"md","type":"quantitative","axis":null}}},{"data":{"name":"ot"},"transform":[{"filter":"datum.k=='b7'"}],"mark":"point","encoding":{"y":{"field":"v","type":"quantitative","axis":null}}},{"mark":{"type":"rule","opacity":0},"encoding":{"y":{"field":"lo","type":"quantitative","title":null,"axis":{"orient":"right","values":[4.5,7.5,10.5,13.5,16.5],"labels":false,"ticks":false,"minExtent":0,"maxExtent":0,"gridColor":"#efefef","gridWidth":0.6}}}}]}]},
{"spacing":0,"bounds":"flush","vconcat":[{"width":141,"height":15,"view":{"fill":"#d9d9d9","stroke":"#8c8c8c"},"mark":"text","encoding":{"text":{"value":"T140 (P=0.087)"}}},{"width":141,"height":60,"data":{"name":"st"},"transform":[{"filter":"datum.k=='b8'"}],"encoding":{"x":{"field":"g","type":"nominal","title":null}},"resolve":{"axis":{"y":"independent"}},"layer":[{"mark":"rule","encoding":{"y":{"field":"lo","type":"quantitative","title":null,"scale":{"domain":[-1.5,31.5],"nice":false},"axis":{"labelOverlap":false,"values":[0,10,20,30]}},"y2":{"field":"hi"}}},{"mark":"bar","encoding":{"y":{"field":"q1","type":"quantitative","axis":null},"y2":{"field":"q3"},"color":{"field":"g","type":"nominal","legend":null}}},{"mark":{"type":"tick","size":51},"encoding":{"y":{"field":"md","type":"quantitative","axis":null}}},{"data":{"name":"ot"},"transform":[{"filter":"datum.k=='b8'"}],"mark":"point","encoding":{"y":{"field":"v","type":"quantitative","axis":null}}},{"mark":{"type":"rule","opacity":0},"encoding":{"y":{"field":"lo","type":"quantitative","title":null,"axis":{"orient":"right","values":[5,15,25],"labels":false,"ticks":false,"minExtent":0,"maxExtent":0,"gridColor":"#efefef","gridWidth":0.6}}}}]}]},
{"spacing":0,"bounds":"flush","vconcat":[{"width":141,"height":15,"view":{"fill":"#d9d9d9","stroke":"#8c8c8c"},"mark":"text","encoding":{"text":{"value":"T160 (P=0.067)"}}},{"width":141,"height":60,"data":{"name":"st"},"transform":[{"filter":"datum.k=='b9'"}],"encoding":{"x":{"field":"g","type":"nominal","title":null}},"resolve":{"axis":{"y":"independent"}},"layer":[{"mark":"rule","encoding":{"y":{"field":"lo","type":"quantitative","title":null,"scale":{"domain":[-0.85,17.9],"nice":false},"axis":{"labelOverlap":false,"values":[0,5,10,15]}},"y2":{"field":"hi"}}},{"mark":"bar","encoding":{"y":{"field":"q1","type":"quantitative","axis":null},"y2":{"field":"q3"},"color":{"field":"g","type":"nominal","legend":null}}},{"mark":{"type":"tick","size":51},"encoding":{"y":{"field":"md","type":"quantitative","axis":null}}},{"data":{"name":"ot"},"transform":[{"filter":"datum.k=='b9'"}],"mark":"point","encoding":{"y":{"field":"v","type":"quantitative","axis":null}}},{"mark":{"type":"rule","opacity":0},"encoding":{"y":{"field":"lo","type":"quantitative","title":null,"axis":{"orient":"right","values":[2.5,7.5,12.5,17.5],"labels":false,"ticks":false,"minExtent":0,"maxExtent":0,"gridColor":"#efefef","gridWidth":0.6}}}}]}]},
{"spacing":0,"bounds":"flush","vconcat":[{"width":141,"height":15,"view":{"fill":"#d9d9d9","stroke":"#8c8c8c"},"layer":[{"mark":{"type":"text","align":"right","dx":-12},"encoding":{"text":{"value":"T180"}}},{"mark":{"type":"text","align":"left","dx":-9,"color":"#e8201c"},"encoding":{"text":{"value":"(P=0.019)"}}}]},{"width":141,"height":60,"data":{"name":"st"},"transform":[{"filter":"datum.k=='b10'"}],"encoding":{"x":{"field":"g","type":"nominal","title":null}},"resolve":{"axis":{"y":"independent"}},"layer":[{"mark":"rule","encoding":{"y":{"field":"lo","type":"quantitative","title":null,"scale":{"domain":[-0.5,10.3],"nice":false},"axis":{"labelOverlap":false,"format":".1f","values":[0,2.5,5,7.5,10]}},"y2":{"field":"hi"}}},{"mark":"bar","encoding":{"y":{"field":"q1","type":"quantitative","axis":null},"y2":{"field":"q3"},"color":{"field":"g","type":"nominal","legend":null}}},{"mark":{"type":"tick","size":51},"encoding":{"y":{"field":"md","type":"quantitative","axis":null}}},{"data":{"name":"ot"},"transform":[{"filter":"datum.k=='b10'"}],"mark":"point","encoding":{"y":{"field":"v","type":"quantitative","axis":null}}},{"mark":{"type":"rule","opacity":0},"encoding":{"y":{"field":"lo","type":"quantitative","title":null,"axis":{"orient":"right","values":[1.25,3.75,6.25,8.75],"labels":false,"ticks":false,"minExtent":0,"maxExtent":0,"gridColor":"#efefef","gridWidth":0.6}}}}]}]},
{"spacing":0,"bounds":"flush","vconcat":[{"width":141,"height":15,"view":{"fill":"#d9d9d9","stroke":"#8c8c8c"},"mark":"text","encoding":{"text":{"value":"T54 (P=0.254)"}}},{"width":141,"height":60,"data":{"name":"st"},"transform":[{"filter":"datum.k=='b11'"}],"encoding":{"x":{"field":"g","type":"nominal","title":null}},"resolve":{"axis":{"y":"independent"}},"layer":[{"mark":"rule","encoding":{"y":{"field":"lo","type":"quantitative","title":null,"scale":{"domain":[-0.6,13],"nice":false},"axis":{"labelOverlap":false,"values":[0,5,10]}},"y2":{"field":"hi"}}},{"mark":"bar","encoding":{"y":{"field":"q1","type":"quantitative","axis":null},"y2":{"field":"q3"},"color":{"field":"g","type":"nominal","legend":null}}},{"mark":{"type":"tick","size":51},"encoding":{"y":{"field":"md","type":"quantitative","axis":null}}},{"data":{"name":"ot"},"transform":[{"filter":"datum.k=='b11'"}],"mark":"point","encoding":{"y":{"field":"v","type":"quantitative","axis":null}}},{"mark":{"type":"rule","opacity":0},"encoding":{"y":{"field":"lo","type":"quantitative","title":null,"axis":{"orient":"right","values":[2.5,7.5,12.5],"labels":false,"ticks":false,"minExtent":0,"maxExtent":0,"gridColor":"#efefef","gridWidth":0.6}}}}]}]},
{"spacing":0,"bounds":"flush","vconcat":[{"width":141,"height":15,"view":{"fill":"#d9d9d9","stroke":"#8c8c8c"},"mark":"text","encoding":{"text":{"value":"T70 (P=0.705)"}}},{"width":141,"height":60,"data":{"name":"st"},"transform":[{"filter":"datum.k=='b12'"}],"encoding":{"x":{"field":"g","type":"nominal","title":null}},"resolve":{"axis":{"y":"independent"}},"layer":[{"mark":"rule","encoding":{"y":{"field":"lo","type":"quantitative","title":null,"scale":{"domain":[-1.2,25.7],"nice":false},"axis":{"labelOverlap":false,"values":[0,5,10,15,20,25]}},"y2":{"field":"hi"}}},{"mark":"bar","encoding":{"y":{"field":"q1","type":"quantitative","axis":null},"y2":{"field":"q3"},"color":{"field":"g","type":"nominal","legend":null}}},{"mark":{"type":"tick","size":51},"encoding":{"y":{"field":"md","type":"quantitative","axis":null}}},{"data":{"name":"ot"},"transform":[{"filter":"datum.k=='b12'"}],"mark":"point","encoding":{"y":{"field":"v","type":"quantitative","axis":null}}},{"mark":{"type":"rule","opacity":0},"encoding":{"y":{"field":"lo","type":"quantitative","title":null,"axis":{"orient":"right","values":[2.5,7.5,12.5,17.5,22.5],"labels":false,"ticks":false,"minExtent":0,"maxExtent":0,"gridColor":"#efefef","gridWidth":0.6}}}}]}]}
]}]},
{"spacing":6,"vconcat":[
{"width":203,"height":28,"view":{"fill":"#3a3d45","stroke":null,"cornerRadius":7},"layer":[
{"mark":{"type":"text","align":"left","dx":-92.5,"fontSize":16,"color":"white"},"encoding":{"text":{"value":"c"}}},
{"mark":{"type":"text","align":"left","dx":-76.5,"fontSize":18,"color":"white"},"encoding":{"text":{"value":"Post-SLMM traces"}}}]},
{"columns":3,"spacing":{"row":3,"column":0},"concat":[
{"spacing":0,"bounds":"flush","vconcat":[{"width":190,"height":15,"view":{"fill":"#d9d9d9","stroke":"#8c8c8c"},"mark":"text","encoding":{"text":{"value":"CV (P=0.461)"}}},{"width":190,"height":58,"data":{"name":"st"},"transform":[{"filter":"datum.k=='c1'"}],"encoding":{"x":{"field":"g","type":"nominal","title":null}},"resolve":{"axis":{"y":"independent"}},"layer":[{"mark":"rule","encoding":{"y":{"field":"lo","type":"quantitative","title":null,"scale":{"domain":[3.6,22.6],"nice":false},"axis":{"minExtent":31,"maxExtent":31,"labelOverlap":false,"values":[5,10,15,20]}},"y2":{"field":"hi"}}},{"mark":"bar","encoding":{"y":{"field":"q1","type":"quantitative","axis":null},"y2":{"field":"q3"},"color":{"field":"g","type":"nominal","legend":null}}},{"mark":{"type":"tick","size":69},"encoding":{"y":{"field":"md","type":"quantitative","axis":null}}},{"data":{"name":"ot"},"transform":[{"filter":"datum.k=='c1'"}],"mark":"point","encoding":{"y":{"field":"v","type":"quantitative","axis":null}}},{"mark":{"type":"rule","opacity":0},"encoding":{"y":{"field":"lo","type":"quantitative","title":null,"axis":{"orient":"right","values":[7.5,12.5,17.5,22.5],"labels":false,"ticks":false,"minExtent":0,"maxExtent":0,"gridColor":"#efefef","gridWidth":0.6}}}}]}]},
{"spacing":0,"bounds":"flush","vconcat":[{"width":190,"height":15,"view":{"fill":"#d9d9d9","stroke":"#8c8c8c"},"mark":"text","encoding":{"text":{"value":"G75 (P=0.658)"}}},{"width":190,"height":58,"data":{"name":"st"},"transform":[{"filter":"datum.k=='c2'"}],"encoding":{"x":{"field":"g","type":"nominal","title":null}},"resolve":{"axis":{"y":"independent"}},"layer":[{"mark":"rule","encoding":{"y":{"field":"lo","type":"quantitative","title":null,"scale":{"domain":[72,170],"nice":false},"axis":{"minExtent":31,"maxExtent":31,"labelOverlap":false,"values":[90,120,150]}},"y2":{"field":"hi"}}},{"mark":"bar","encoding":{"y":{"field":"q1","type":"quantitative","axis":null},"y2":{"field":"q3"},"color":{"field":"g","type":"nominal","legend":null}}},{"mark":{"type":"tick","size":69},"encoding":{"y":{"field":"md","type":"quantitative","axis":null}}},{"data":{"name":"ot"},"transform":[{"filter":"datum.k=='c2'"}],"mark":"point","encoding":{"y":{"field":"v","type":"quantitative","axis":null}}},{"mark":{"type":"rule","opacity":0},"encoding":{"y":{"field":"lo","type":"quantitative","title":null,"axis":{"orient":"right","values":[75,105,135,165],"labels":false,"ticks":false,"minExtent":0,"maxExtent":0,"gridColor":"#efefef","gridWidth":0.6}}}}]}]},
{"spacing":0,"bounds":"flush","vconcat":[{"width":190,"height":15,"view":{"fill":"#d9d9d9","stroke":"#8c8c8c"},"mark":"text","encoding":{"text":{"value":"Gmax (P=0.829)"}}},{"width":190,"height":58,"data":{"name":"st"},"transform":[{"filter":"datum.k=='c3'"}],"encoding":{"x":{"field":"g","type":"nominal","title":null}},"resolve":{"axis":{"y":"independent"}},"layer":[{"mark":"rule","encoding":{"y":{"field":"lo","type":"quantitative","title":null,"scale":{"domain":[95,185],"nice":false},"axis":{"minExtent":31,"maxExtent":31,"labelOverlap":false,"values":[100,120,140,160,180]}},"y2":{"field":"hi"}}},{"mark":"bar","encoding":{"y":{"field":"q1","type":"quantitative","axis":null},"y2":{"field":"q3"},"color":{"field":"g","type":"nominal","legend":null}}},{"mark":{"type":"tick","size":69},"encoding":{"y":{"field":"md","type":"quantitative","axis":null}}},{"data":{"name":"ot"},"transform":[{"filter":"datum.k=='c3'"}],"mark":"point","encoding":{"y":{"field":"v","type":"quantitative","axis":null}}},{"mark":{"type":"rule","opacity":0},"encoding":{"y":{"field":"lo","type":"quantitative","title":null,"axis":{"orient":"right","values":[110,130,150,170],"labels":false,"ticks":false,"minExtent":0,"maxExtent":0,"gridColor":"#efefef","gridWidth":0.6}}}}]}]},
{"spacing":0,"bounds":"flush","vconcat":[{"width":190,"height":15,"view":{"fill":"#d9d9d9","stroke":"#8c8c8c"},"mark":"text","encoding":{"text":{"value":"IAUC (P=0.895)"}}},{"width":190,"height":58,"data":{"name":"st"},"transform":[{"filter":"datum.k=='c4'"}],"encoding":{"x":{"field":"g","type":"nominal","title":null}},"resolve":{"axis":{"y":"independent"}},"layer":[{"mark":"rule","encoding":{"y":{"field":"lo","type":"quantitative","title":null,"scale":{"domain":[330,2620],"nice":false},"axis":{"minExtent":31,"maxExtent":31,"labelOverlap":false,"values":[500,1000,1500,2000,2500]}},"y2":{"field":"hi"}}},{"mark":"bar","encoding":{"y":{"field":"q1","type":"quantitative","axis":null},"y2":{"field":"q3"},"color":{"field":"g","type":"nominal","legend":null}}},{"mark":{"type":"tick","size":69},"encoding":{"y":{"field":"md","type":"quantitative","axis":null}}},{"data":{"name":"ot"},"transform":[{"filter":"datum.k=='c4'"}],"mark":"point","encoding":{"y":{"field":"v","type":"quantitative","axis":null}}},{"mark":{"type":"rule","opacity":0},"encoding":{"y":{"field":"lo","type":"quantitative","title":null,"axis":{"orient":"right","values":[750,1250,1750,2250],"labels":false,"ticks":false,"minExtent":0,"maxExtent":0,"gridColor":"#efefef","gridWidth":0.6}}}}]}]},
{"spacing":0,"bounds":"flush","vconcat":[{"width":190,"height":15,"view":{"fill":"#d9d9d9","stroke":"#8c8c8c"},"mark":"text","encoding":{"text":{"value":"S (P=0.902)"}}},{"width":190,"height":58,"data":{"name":"st"},"transform":[{"filter":"datum.k=='c5'"}],"encoding":{"x":{"field":"g","type":"nominal","title":null}},"resolve":{"axis":{"y":"independent"}},"layer":[{"mark":"rule","encoding":{"y":{"field":"lo","type":"quantitative","title":null,"scale":{"domain":[-440,1215],"nice":false},"axis":{"minExtent":31,"maxExtent":31,"labelOverlap":false,"values":[-400,0,400,800,1200]}},"y2":{"field":"hi"}}},{"mark":"bar","encoding":{"y":{"field":"q1","type":"quantitative","axis":null},"y2":{"field":"q3"},"color":{"field":"g","type":"nominal","legend":null}}},{"mark":{"type":"tick","size":69},"encoding":{"y":{"field":"md","type":"quantitative","axis":null}}},{"data":{"name":"ot"},"transform":[{"filter":"datum.k=='c5'"}],"mark":"point","encoding":{"y":{"field":"v","type":"quantitative","axis":null}}},{"mark":{"type":"rule","opacity":0},"encoding":{"y":{"field":"lo","type":"quantitative","title":null,"axis":{"orient":"right","values":[-200,200,600,1000],"labels":false,"ticks":false,"minExtent":0,"maxExtent":0,"gridColor":"#efefef","gridWidth":0.6}}}}]}]},
{"spacing":0,"bounds":"flush","vconcat":[{"width":190,"height":15,"view":{"fill":"#d9d9d9","stroke":"#8c8c8c"},"mark":"text","encoding":{"text":{"value":"T140 (P=0.441)"}}},{"width":190,"height":58,"data":{"name":"st"},"transform":[{"filter":"datum.k=='c6'"}],"encoding":{"x":{"field":"g","type":"nominal","title":null}},"resolve":{"axis":{"y":"independent"}},"layer":[{"mark":"rule","encoding":{"y":{"field":"lo","type":"quantitative","title":null,"scale":{"domain":[-2.5,52],"nice":false},"axis":{"minExtent":31,"maxExtent":31,"labelOverlap":false,"values":[0,10,20,30,40,50]}},"y2":{"field":"hi"}}},{"mark":"bar","encoding":{"y":{"field":"q1","type":"quantitative","axis":null},"y2":{"field":"q3"},"color":{"field":"g","type":"nominal","legend":null}}},{"mark":{"type":"tick","size":69},"encoding":{"y":{"field":"md","type":"quantitative","axis":null}}},{"data":{"name":"ot"},"transform":[{"filter":"datum.k=='c6'"}],"mark":"point","encoding":{"y":{"field":"v","type":"quantitative","axis":null}}},{"mark":{"type":"rule","opacity":0},"encoding":{"y":{"field":"lo","type":"quantitative","title":null,"axis":{"orient":"right","values":[5,15,25,35,45],"labels":false,"ticks":false,"minExtent":0,"maxExtent":0,"gridColor":"#efefef","gridWidth":0.6}}}}]}]},
{"spacing":0,"bounds":"flush","vconcat":[{"width":190,"height":15,"view":{"fill":"#d9d9d9","stroke":"#8c8c8c"},"mark":"text","encoding":{"text":{"value":"T160 (P=0.203)"}}},{"width":190,"height":58,"data":{"name":"st"},"transform":[{"filter":"datum.k=='c7'"}],"encoding":{"x":{"field":"g","type":"nominal","title":null}},"resolve":{"axis":{"y":"independent"}},"layer":[{"mark":"rule","encoding":{"y":{"field":"lo","type":"quantitative","title":null,"scale":{"domain":[-1.7,34.7],"nice":false},"axis":{"minExtent":31,"maxExtent":31,"labelOverlap":false,"values":[0,10,20,30]}},"y2":{"field":"hi"}}},{"mark":"bar","encoding":{"y":{"field":"q1","type":"quantitative","axis":null},"y2":{"field":"q3"},"color":{"field":"g","type":"nominal","legend":null}}},{"mark":{"type":"tick","size":69},"encoding":{"y":{"field":"md","type":"quantitative","axis":null}}},{"data":{"name":"ot"},"transform":[{"filter":"datum.k=='c7'"}],"mark":"point","encoding":{"y":{"field":"v","type":"quantitative","axis":null}}},{"mark":{"type":"rule","opacity":0},"encoding":{"y":{"field":"lo","type":"quantitative","title":null,"axis":{"orient":"right","values":[5,15,25],"labels":false,"ticks":false,"minExtent":0,"maxExtent":0,"gridColor":"#efefef","gridWidth":0.6}}}}]}]},
{"spacing":0,"bounds":"flush","vconcat":[{"width":190,"height":15,"view":{"fill":"#d9d9d9","stroke":"#8c8c8c"},"mark":"text","encoding":{"text":{"value":"T180 (P=0.067)"}}},{"width":190,"height":58,"data":{"name":"st"},"transform":[{"filter":"datum.k=='c8'"}],"encoding":{"x":{"field":"g","type":"nominal","title":null}},"resolve":{"axis":{"y":"independent"}},"layer":[{"mark":"rule","encoding":{"y":{"field":"lo","type":"quantitative","title":null,"scale":{"domain":[-1.4,28.6],"nice":false},"axis":{"minExtent":31,"maxExtent":31,"labelOverlap":false,"values":[0,10,20]}},"y2":{"field":"hi"}}},{"mark":"bar","encoding":{"y":{"field":"q1","type":"quantitative","axis":null},"y2":{"field":"q3"},"color":{"field":"g","type":"nominal","legend":null}}},{"mark":{"type":"tick","size":69},"encoding":{"y":{"field":"md","type":"quantitative","axis":null}}},{"data":{"name":"ot"},"transform":[{"filter":"datum.k=='c8'"}],"mark":"point","encoding":{"y":{"field":"v","type":"quantitative","axis":null}}},{"mark":{"type":"rule","opacity":0},"encoding":{"y":{"field":"lo","type":"quantitative","title":null,"axis":{"orient":"right","values":[5,15,25],"labels":false,"ticks":false,"minExtent":0,"maxExtent":0,"gridColor":"#efefef","gridWidth":0.6}}}}]}]},
{"spacing":0,"bounds":"flush","vconcat":[{"width":190,"height":15,"view":{"fill":"#d9d9d9","stroke":"#8c8c8c"},"layer":[{"mark":{"type":"text","align":"right","dx":-12},"encoding":{"text":{"value":"Tmax"}}},{"mark":{"type":"text","align":"left","dx":-9,"color":"#e8201c"},"encoding":{"text":{"value":"(P=0.026)"}}}]},{"width":190,"height":58,"data":{"name":"st"},"transform":[{"filter":"datum.k=='c9'"}],"encoding":{"x":{"field":"g","type":"nominal","title":null}},"resolve":{"axis":{"y":"independent"}},"layer":[{"mark":"rule","encoding":{"y":{"field":"lo","type":"quantitative","title":null,"scale":{"domain":[0.0165,0.0535],"nice":false},"axis":{"minExtent":31,"maxExtent":31,"labelOverlap":false,"format":".2f","values":[0.02,0.03,0.04,0.05]}},"y2":{"field":"hi"}}},{"mark":"bar","encoding":{"y":{"field":"q1","type":"quantitative","axis":null},"y2":{"field":"q3"},"color":{"field":"g","type":"nominal","legend":null}}},{"mark":{"type":"tick","size":69},"encoding":{"y":{"field":"md","type":"quantitative","axis":null}}},{"data":{"name":"ot"},"transform":[{"filter":"datum.k=='c9'"}],"mark":"point","encoding":{"y":{"field":"v","type":"quantitative","axis":null}}},{"mark":{"type":"rule","opacity":0},"encoding":{"y":{"field":"lo","type":"quantitative","title":null,"axis":{"orient":"right","values":[0.025,0.035,0.045],"labels":false,"ticks":false,"minExtent":0,"maxExtent":0,"gridColor":"#efefef","gridWidth":0.6}}}}]}]}
]}]}
]
}
